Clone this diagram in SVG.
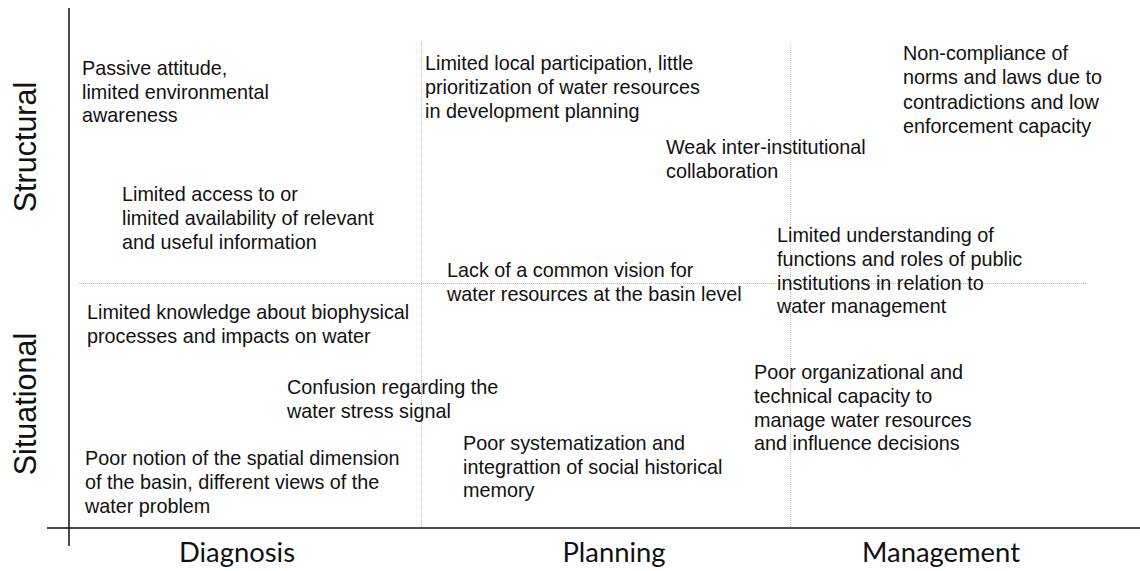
<svg xmlns="http://www.w3.org/2000/svg" width="1140" height="571" viewBox="0 0 1140 571">
<style>
.t{font-family:"Liberation Sans",Arial,sans-serif;font-size:19.8px;fill:#111}
.ax{font-family:Lato,"Open Sans",sans-serif;font-size:27.4px;fill:#111}
.vl{font-family:"Liberation Sans",Arial,sans-serif;font-size:30.5px;fill:#111}
.axis{stroke:#111;stroke-width:1.5;fill:none}
.dot{stroke:#bbb;stroke-width:1;stroke-dasharray:1,1;fill:none}
</style>
<rect width="1140" height="571" fill="#fff"/>
<g id="grid">
<line class="dot" x1="79" y1="283.5" x2="1087" y2="283.5"/>
<line class="dot" x1="421.5" y1="42" x2="421.5" y2="528"/>
<line class="dot" x1="790.5" y1="44" x2="790.5" y2="528"/>
</g>
<g id="axes">
<line class="axis" x1="69" y1="8" x2="69" y2="546"/>
<line class="axis" x1="47" y1="528" x2="1140" y2="528"/>
</g>
<g id="axis-labels">
<text class="vl" transform="translate(36,147) rotate(-90)" text-anchor="middle">Structural</text>
<text class="vl" transform="translate(36,404) rotate(-90)" text-anchor="middle">Situational</text>
<text class="ax" x="237" y="562" text-anchor="middle">Diagnosis</text>
<text class="ax" x="614" y="562" text-anchor="middle">Planning</text>
<text class="ax" x="941" y="562" text-anchor="middle">Management</text>
</g>
<g id="n1"><text class="t" x="82" y="75">Passive attitude,<tspan x="82" dy="23.5">limited environmental</tspan><tspan x="82" dy="23.5">awareness</tspan></text></g>
<g id="n2"><text class="t" x="122" y="201">Limited access to or<tspan x="122" dy="23.8">limited availability of relevant</tspan><tspan x="122" dy="23.8">and useful information</tspan></text></g>
<g id="n3"><text class="t" x="425" y="70">Limited local participation, little<tspan x="425" dy="24">prioritization of water resources</tspan><tspan x="425" dy="24">in development planning</tspan></text></g>
<g id="n4"><text class="t" x="666" y="154">Weak inter-institutional<tspan x="666" dy="24">collaboration</tspan></text></g>
<g id="n5"><text class="t" x="903" y="60">Non-compliance of<tspan x="903" dy="24.3">norms and laws due to</tspan><tspan x="903" dy="24.3">contradictions and low</tspan><tspan x="903" dy="24.3">enforcement capacity</tspan></text></g>
<g id="n6"><text class="t" x="777" y="242">Limited understanding of<tspan x="777" dy="23.8">functions and roles of public</tspan><tspan x="777" dy="23.8">institutions in relation to</tspan><tspan x="777" dy="23.8">water management</tspan></text></g>
<g id="n7"><text class="t" x="447" y="277">Lack of a common vision for<tspan x="447" dy="24">water resources at the basin level</tspan></text></g>
<g id="n8"><text class="t" x="87" y="319">Limited knowledge about biophysical<tspan x="87" dy="24">processes and impacts on water</tspan></text></g>
<g id="n9"><text class="t" x="287" y="394">Confusion regarding the<tspan x="287" dy="23.5">water stress signal</tspan></text></g>
<g id="n10"><text class="t" x="754" y="379">Poor organizational and<tspan x="754" dy="23.8">technical capacity to</tspan><tspan x="754" dy="23.8">manage water resources</tspan><tspan x="754" dy="23.8">and influence decisions</tspan></text></g>
<g id="n11"><text class="t" x="463" y="450">Poor systematization and<tspan x="463" dy="23.5">integrattion of social historical</tspan><tspan x="463" dy="23.5">memory</tspan></text></g>
<g id="n12"><text class="t" x="85" y="465">Poor notion of the spatial dimension<tspan x="85" dy="24">of the basin, different views of the</tspan><tspan x="85" dy="24">water problem</tspan></text></g>
</svg>
